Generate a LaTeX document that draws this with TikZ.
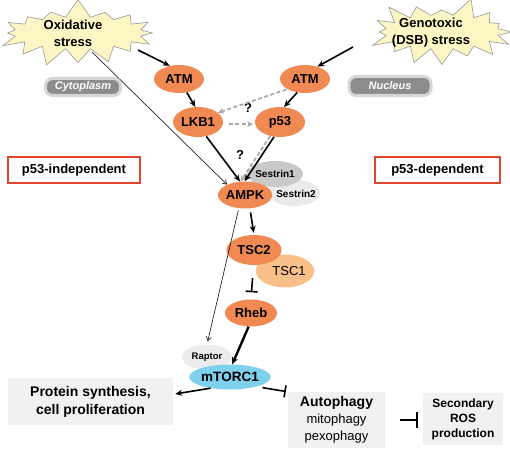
\documentclass[tikz,border=0pt]{standalone}
\usepackage{fontspec}
\setmainfont{Liberation Sans}
\usetikzlibrary{arrows.meta,shapes.symbols,shapes.geometric}
\pgfdeclarelayer{background}
\pgfsetlayers{background,main}
\definecolor{orng}{HTML}{F08A52}
\definecolor{ltorng}{HTML}{F9C089}
\definecolor{starf}{HTML}{FCF6C4}
\definecolor{sesA}{HTML}{C9C9C9}
\definecolor{sesB}{HTML}{EAEAEA}
\definecolor{mtor}{HTML}{7FD0EC}
\definecolor{rapt}{HTML}{ECECEC}
\definecolor{boxg}{HTML}{F1F1F1}
\definecolor{redb}{HTML}{E2442F}
\definecolor{dashg}{HTML}{ABABAB}
\definecolor{pillf}{HTML}{8C8C8C}
\definecolor{pilld}{HTML}{D6D6D6}
\begin{document}
\begin{tikzpicture}[x=1pt,y=-1pt,
  prot/.style={ellipse, fill=orng, inner sep=0pt, font=\bfseries\fontsize{13}{15}\selectfont},
  burst/.style={starburst, starburst points=16, starburst point height=19pt, random starburst=7,
     fill=starf, draw=gray!80, line width=0.6pt, inner sep=0pt},
  bursttext/.style={align=center, inner sep=0pt, font=\bfseries\fontsize{13}{17}\selectfont},
  pill/.style={rounded corners=7pt, fill=pillf, draw=pilld, line width=3pt, text=white,
     font=\bfseries\itshape\fontsize{11}{13}\selectfont, inner sep=0pt},
  redbox/.style={draw=redb, line width=1.1pt, fill=white, inner sep=0pt, minimum height=26pt,
     font=\bfseries\fontsize{13}{15}\selectfont},
  graybox/.style={fill=boxg, inner sep=0pt, align=center},
  arr/.style={-{Stealth[length=7pt,width=6pt]}, line width=1.6pt, black},
  thinarr/.style={-{Straight Barb[length=4pt,width=5pt]}, line width=0.7pt, gray!30!black},
  inh/.style={-{Bar[width=12pt,line width=1.6pt]}, line width=1.6pt, black},
  dasharr/.style={-{Stealth[length=6pt,width=6pt]}, line width=1.8pt, dashg, dash pattern=on 4pt off 2.5pt},
  qm/.style={font=\bfseries\fontsize{13}{15}\selectfont, inner sep=0pt}
]
\useasboundingbox (0,0) rectangle (510,449);

% stress starbursts
\node[burst, minimum width=166pt, minimum height=70pt] (ox) at (78,33) {};
\node[bursttext] (oxt) at (73,33) {Oxidative\\stress};
\node[burst, minimum width=152pt, minimum height=72pt, random starburst=23] (ge) at (442,32) {};
\node[bursttext] (get) at (431,33) {Genotoxic\\(DSB) stress};
\coordinate (oxA) at (138,50);
\coordinate (oxB) at (92,52);
\coordinate (geA) at (353,47);

% compartment labels
\node[pill, minimum width=75pt, minimum height=17pt] (cyto) at (83,87) {Cytoplasm};
\node[pill, minimum width=82pt, minimum height=19pt] (nucl) at (390,86) {Nucleus};

% p53 labels
\node[redbox, minimum width=132pt] (pind) at (74,170) {p53-independent};
\node[redbox, minimum width=125pt] (pdep) at (437.5,170) {p53-dependent};

% proteins
\node[prot, minimum width=50pt, minimum height=28pt] (atmL) at (179,79) {ATM};
\node[prot, minimum width=50pt, minimum height=28pt] (atmR) at (305,79) {ATM};
\node[prot, minimum width=50pt, minimum height=30pt] (lkb1) at (198,122) {LKB1};
\node[prot, minimum width=50pt, minimum height=30pt] (p53) at (280,122) {p53};

\node[ellipse, fill=sesB, inner sep=0pt, minimum width=52pt, minimum height=26pt] (ses2) at (294,193) {};
\node[ellipse, fill=sesA, inner sep=0pt, minimum width=52pt, minimum height=26pt,
  font=\bfseries\fontsize{10}{12}\selectfont] (ses1) at (275,174) {Sestrin1};
\node[font=\bfseries\fontsize{10}{12}\selectfont, inner sep=0pt] (ses2t) at (296,194) {Sestrin2};
\node[prot, minimum width=50pt, minimum height=27pt] (ampk) at (245,195) {AMPK};

\node[ellipse, fill=ltorng, inner sep=0pt, minimum width=56pt, minimum height=33pt,
  font=\fontsize{13}{15}\selectfont] (tsc1) at (285,271) {\hspace*{8pt}TSC1};
\node[prot, minimum width=55pt, minimum height=30pt] (tsc2) at (254,250) {TSC2};
\node[prot, minimum width=52pt, minimum height=27pt] (rheb) at (251,313) {Rheb};

\node[ellipse, fill=rapt, inner sep=0pt, minimum width=50pt, minimum height=25pt,
  font=\bfseries\fontsize{9.5}{11}\selectfont] (rapt) at (207,357) {\raisebox{2pt}{Raptor}};
\node[ellipse, fill=mtor, inner sep=0pt, minimum width=74pt, minimum height=25pt,
  font=\bfseries\fontsize{13.5}{15}\selectfont] (mtorc) at (230,377) {mTORC1};

% outcome boxes
\node[graybox, minimum width=165pt, minimum height=47pt,
  font=\bfseries\fontsize{14}{18}\selectfont] (prot) at (90.5,401.5) {Protein synthesis,\\cell proliferation};
\node[graybox, minimum width=97pt, minimum height=56pt,
  font=\fontsize{13}{17}\selectfont] (auto) at (336.5,420) {{\bfseries\fontsize{14}{17}\selectfont Autophagy}\\mitophagy\\pexophagy};
\node[graybox, minimum width=80pt, minimum height=52pt,
  font=\bfseries\fontsize{12}{15}\selectfont] (ros) at (463,419) {Secondary\\ROS\\production};

% question marks
\node[qm] (q1) at (248,108) {?};
\node[qm] (q2) at (240,155) {?};

% connectors
\begin{pgfonlayer}{background}
\draw[thinarr] (oxB) -- (ampk.150);
\end{pgfonlayer}
\draw[arr] (oxA) -- (atmL.125);
\draw[arr] (geA) -- (atmR.45);
\draw[arr] (atmL.-60) -- (lkb1.100);
\draw[arr] (atmR.-120) -- (p53.75);
\draw[dasharr, shorten <=1pt] (atmR.-150) -- (lkb1.25);
\draw[dasharr, shorten <=6pt, shorten >=2pt] (lkb1.-5) -- (p53.185);
\draw[arr] (lkb1.-60) -- (ampk.110);
\draw[dasharr] (p53.-125) -- (ampk.108);
\draw[arr] (p53.-112) -- (ampk.92);
\draw[arr, shorten <=4pt, shorten >=2pt] (ampk.-70) -- (tsc2.north);
\draw[thinarr, shorten <=2pt, shorten >=3pt] (ampk.-115) -- (rapt.90);
\draw[inh, shorten <=13pt, shorten >=7pt] (tsc2.-92) -- (rheb.north);
\draw[arr, line width=2.4pt] (rheb.-100) -- (mtorc.80);
\draw[arr, shorten >=2pt] (mtorc.-150) -- (prot.5);
\draw[inh, shorten <=6pt, shorten >=2pt] (mtorc.-20) -- (auto.north west);
\draw[-{Bar[width=16pt,line width=1.6pt]}, line width=1.6pt, shorten <=15pt, shorten >=5pt] (auto.east) -- (ros.west |- auto.east);
\end{tikzpicture}
\end{document}
